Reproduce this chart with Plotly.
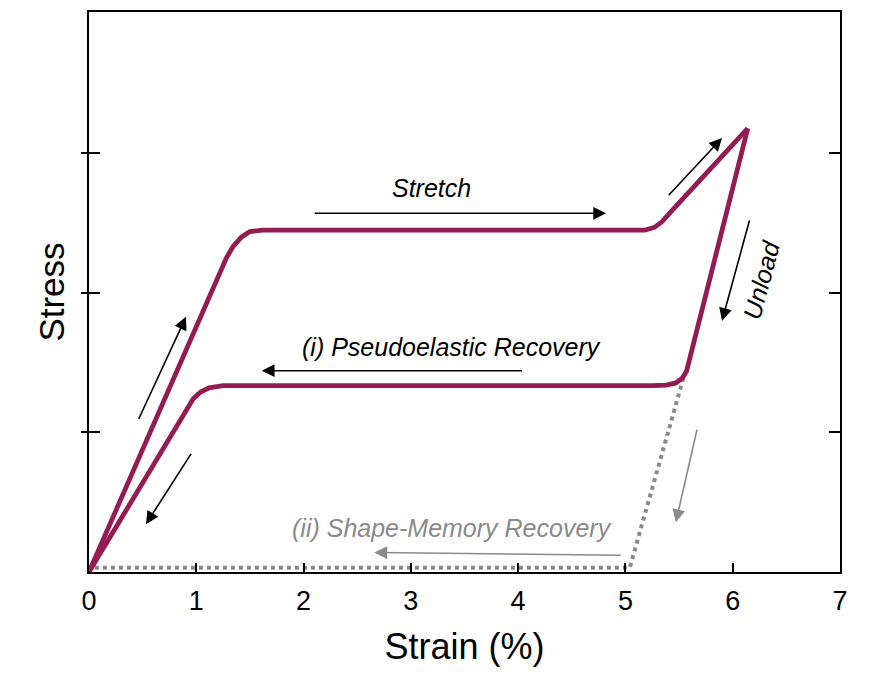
import plotly.graph_objects as go

# Loading path (strain %, stress arb.)
load_x = [0.0, 1.22, 1.28, 1.34, 1.42, 1.50, 1.62, 5.18, 5.27, 5.34, 5.41, 6.14]
load_y = [0.0, 2.15, 2.25, 2.33, 2.40, 2.44, 2.45, 2.45, 2.47, 2.51, 2.57, 3.18]

# Unloading path (pseudoelastic recovery)
unload_x = [6.14, 5.60, 5.57, 5.53, 5.47, 5.38, 5.25, 1.25, 1.12, 1.04, 0.97, 0.0]
unload_y = [3.18, 1.50, 1.44, 1.39, 1.355, 1.34, 1.336, 1.336, 1.32, 1.29, 1.24, 0.0]

# Shape-memory recovery (dotted)
sm_x = [5.54, 5.04, 5.04, 0.0]
sm_y = [1.39, 0.03, 0.03, 0.03]

x_ticks = [0, 1, 2, 3, 4, 5, 6, 7]
y_ticks = [1, 2, 3]

crimson = "#951B53"
gray = "#8a8a8a"
font = "Liberation Sans, Arial, sans-serif"

fig = go.Figure()
fig.add_trace(go.Scatter(x=sm_x, y=sm_y, mode="lines",
                         line=dict(color=gray, width=4, dash="dot"),
                         hoverinfo="skip"))
fig.add_trace(go.Scatter(x=load_x, y=load_y, mode="lines",
                         line=dict(color=crimson, width=4.8), hoverinfo="skip"))
fig.add_trace(go.Scatter(x=unload_x, y=unload_y, mode="lines",
                         line=dict(color=crimson, width=4.8), hoverinfo="skip"))
# empty trace so the outer tick axis is drawn
fig.add_trace(go.Scatter(x=[None], y=[None], yaxis="y2", mode="lines",
                         hoverinfo="skip"))

# arrows: (tail_x, tail_y, head_x, head_y, color)
arrows = [
    (0.457, 1.086, 0.904, 1.829, "black"),
    (0.96, 0.857, 0.531, 0.343, "black"),
    (2.09, 2.571, 4.82, 2.571, "black"),
    (5.39, 2.69, 5.90, 3.11, "black"),
    (6.16, 2.53, 5.90, 1.80, "black"),
    (4.05, 1.443, 1.61, 1.443, "black"),
    (4.97, 0.12, 2.66, 0.14, gray),
    (5.67, 1.03, 5.47, 0.357, gray),
]
for tx, ty, hx, hy, c in arrows:
    fig.add_annotation(x=hx, y=hy, ax=tx, ay=ty, xref="x", yref="y",
                       axref="x", ayref="y", showarrow=True, text="",
                       arrowhead=2, arrowsize=1.6, arrowwidth=1.6,
                       arrowcolor=c)

labels = [
    ("Stretch", 3.19, 2.75, "black", 0),
    ("(i) Pseudoelastic Recovery", 3.38, 1.61, "black", 0),
    ("(ii) Shape-Memory Recovery", 3.38, 0.314, gray, 0),
    ("Unload", 6.27, 2.09, "black", -75),
]
for t, x, y, c, ang in labels:
    fig.add_annotation(x=x, y=y, xref="x", yref="y", text="<i>%s</i>" % t,
                       showarrow=False, textangle=ang,
                       font=dict(family=font, size=25, color=c))

fig.update_layout(
    width=867, height=680,
    margin=dict(l=81, r=35, t=2, b=116),
    paper_bgcolor="white", plot_bgcolor="white",
    showlegend=False,
    font=dict(family=font, color="black"),
    xaxis=dict(range=[0, 7], tickvals=x_ticks, ticktext=[str(v) for v in x_ticks],
               ticks="inside", ticklen=9, tickwidth=1.5, tickcolor="black",
               showline=True, linecolor="black", linewidth=2, mirror=True,
               showgrid=False, zeroline=False, ticklabelstandoff=4,
               tickfont=dict(size=27, family=font),
               title=dict(text="Strain (%)", font=dict(size=36, family=font), standoff=18)),
    yaxis=dict(range=[0, 4.014], tickvals=y_ticks, showticklabels=False,
               ticks="inside", ticklen=11, tickwidth=1.5, tickcolor="black",
               showline=True, linecolor="black", linewidth=2, mirror="ticks",
               showgrid=False, zeroline=False,
               title=dict(text="Stress", font=dict(size=35, family=font), standoff=12)),
    yaxis2=dict(overlaying="y", anchor="x", side="left", range=[0, 4.014],
                tickvals=y_ticks, showticklabels=False, ticks="outside",
                ticklen=7, tickwidth=1.5, tickcolor="black", showline=False,
                showgrid=False, zeroline=False),
)

fig.write_html("out.html")
